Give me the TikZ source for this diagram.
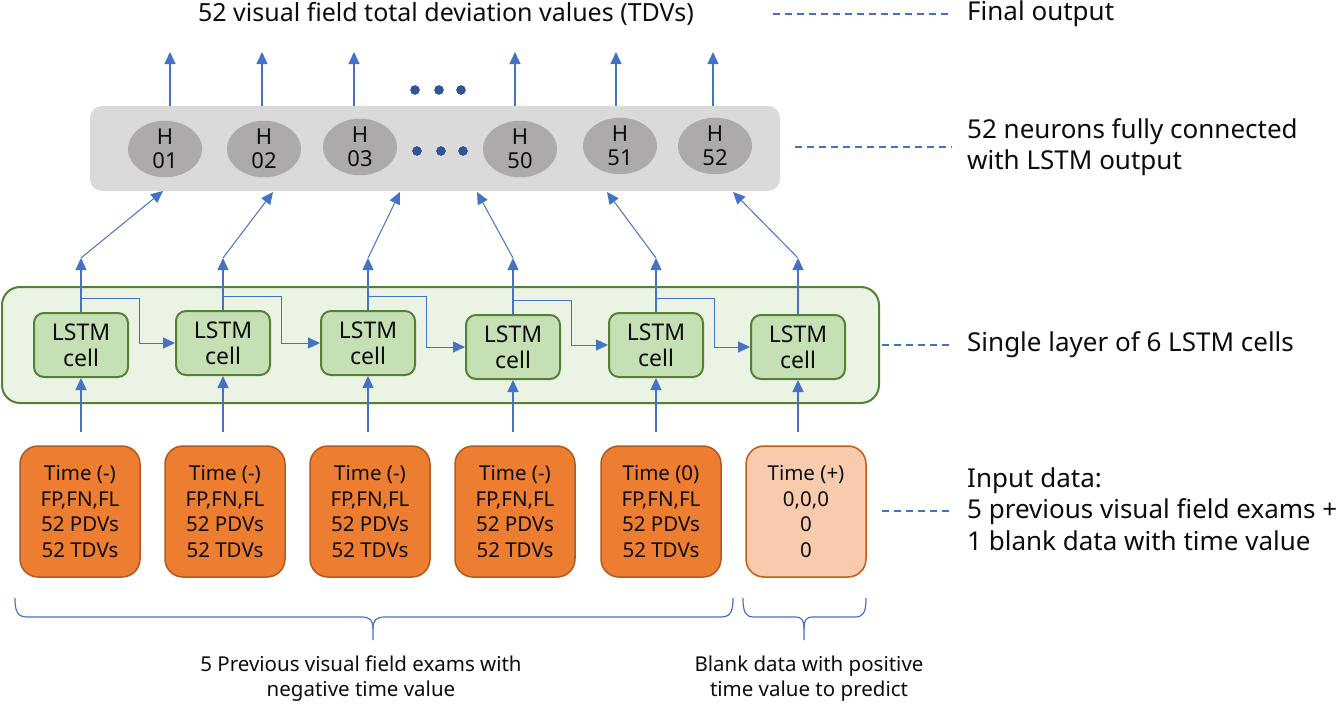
\documentclass[tikz,border=0pt]{standalone}
\usepackage{fontspec}
\setmainfont{Noto Sans}
\usetikzlibrary{arrows.meta,calc,shapes.geometric}
\definecolor{arrblue}{HTML}{4472C4}
\definecolor{dotblue}{HTML}{2F5597}
\definecolor{orgfill}{HTML}{ED7D31}
\definecolor{orgdraw}{HTML}{AE5A21}
\definecolor{ltfill}{HTML}{F8CBAD}
\definecolor{ltdraw}{HTML}{C55A11}
\definecolor{grnfill}{HTML}{EBF3E4}
\definecolor{grndraw}{HTML}{548235}
\definecolor{cellfill}{HTML}{C5E0B4}
\definecolor{grayfill}{HTML}{DADADA}
\definecolor{ellfill}{HTML}{AEAAAA}
\definecolor{txt}{HTML}{0D0D0D}
\begin{document}
\begin{tikzpicture}[x=1pt,y=-1pt,text=txt,
  conn/.style={draw=arrblue,line width=1.3pt,-{Triangle[width=11pt,length=12pt]}},
  thinconn/.style={draw=arrblue,line width=1pt,-{Triangle[width=11pt,length=12pt]}},
  dashln/.style={draw=arrblue,line width=1.5pt,dash pattern=on 7pt off 5pt},
  graybox/.style={fill=grayfill,rounded corners=12pt,minimum width=690pt,minimum height=85pt,inner sep=0},
  hnode/.style={ellipse,fill=ellfill,minimum width=74pt,minimum height=55pt,inner sep=0,align=center,font=\fontsize{22}{24}\selectfont},
  layerbox/.style={draw=grndraw,line width=2pt,fill=grnfill,rounded corners=18pt,minimum width=877pt,minimum height=116pt,inner sep=0},
  cell/.style={draw=grndraw,line width=2pt,fill=cellfill,rounded corners=10pt,minimum width=94pt,minimum height=64pt,inner sep=0,align=center,font=\fontsize{23}{26}\selectfont},
  inbox/.style={draw=orgdraw,line width=1.5pt,fill=orgfill,rounded corners=18pt,minimum width=120pt,minimum height=131pt,inner sep=0,align=center,font=\fontsize{20.5}{25.5}\selectfont},
  blankbox/.style={inbox,draw=ltdraw,fill=ltfill},
  lbl/.style={inner sep=0,align=left,anchor=west,font=\fontsize{26}{31.5}\selectfont},
  note/.style={inner sep=0,align=center,font=\fontsize{20.5}{25}\selectfont},
  dot/.style={circle,fill=dotblue,draw=dotblue!80!black,minimum size=9pt,inner sep=0},
  brace/.style={draw=arrblue,line width=1.2pt}
]
\useasboundingbox (0,0) rectangle (1342,704);

% ---- top: fully connected layer ----
\node[graybox] (hbox) at (435,148.5) {};
\node[hnode] (h1) at (165,149) {H\\01};
\node[hnode] (h2) at (264,149) {H\\02};
\node[hnode] (h3) at (360,147) {H\\03};
\node[hnode] (h50) at (520,149) {H\\50};
\node[hnode] (h51) at (620,146) {H\\51};
\node[hnode] (h52) at (715,146) {H\\52};
\foreach \i/\x in {1/415,2/439,3/461} \node[dot] (da\i) at (\x,90) {};
\foreach \i/\x in {1/417,2/441,3/463} \node[dot] (db\i) at (\x,151) {};

% output arrows
\foreach \i/\x in {1/170,2/262,3/354,4/515,5/616,6/713}{
  \coordinate (o\i) at (\x,52);
  \draw[conn] (o\i |- hbox.north) -- (o\i);
}

\node[inner sep=0,font=\fontsize{25}{31}\selectfont] (title) at (446,14) {52 visual field total deviation values (TDVs)};

% ---- LSTM layer ----
\node[layerbox] (layer) at (440.5,345) {};
\foreach \i/\x/\y in {1/81/345,2/223/343,3/368/343,4/513/347,5/656/345,6/798/347}{
  \node[cell] (c\i) at (\x,\y) {LSTM\\cell};
  \coordinate (u\i) at (\x,258);
  \coordinate (r\i) at ([xshift=10pt]c\i.east);
}
% targets on the bottom of the fully connected box
\coordinate (t1) at (163,191);
\coordinate (t2) at (273,192);
\coordinate (t3) at (400,192);
\coordinate (t4) at (477,192);
\coordinate (t5) at (607,192);
\coordinate (t6) at (733,192);
\foreach \i in {1,...,6}{
  \draw[conn] (c\i.north) -- (u\i);
  \draw[thinconn] (u\i) -- (t\i);
}
% recurrent connections
\foreach \i/\j in {1/2,2/3,3/4,4/5,5/6}{
  \draw[thinconn] ([yshift=14pt]c\i.north) -| (r\i |- c\j.west) -- (c\j.west);
}

% ---- input boxes ----
\node[inbox] (b1) at (80,511.5) {Time (-)\\FP,FN,FL\\52 PDVs\\52 TDVs};
\node[inbox] (b2) at (225,511.5) {Time (-)\\FP,FN,FL\\52 PDVs\\52 TDVs};
\node[inbox] (b3) at (370,511.5) {Time (-)\\FP,FN,FL\\52 PDVs\\52 TDVs};
\node[inbox] (b4) at (515,511.5) {Time (-)\\FP,FN,FL\\52 PDVs\\52 TDVs};
\node[inbox] (b5) at (661,511.5) {Time (0)\\FP,FN,FL\\52 PDVs\\52 TDVs};
\node[blankbox] (b6) at (806,511.5) {Time (+)\\0,0,0\\0\\0};
\foreach \i in {1,...,6}{
  \draw[conn,shorten <=13pt] (c\i.south |- b\i.north) -- (c\i.south);
}

% ---- braces ----
\draw[brace] (15,598) .. controls (15,613) and (18,617) .. (28,617) -- (361,617)
  .. controls (370,617) and (373,620) .. (373,629) -- (373,640);
\draw[brace] (373,629) .. controls (373,620) and (376,617) .. (385,617) -- (720,617)
  .. controls (730,617) and (733,613) .. (733,598);
\draw[brace] (743,598) .. controls (743,613) and (746,617) .. (754,617) -- (795,617)
  .. controls (802,617) and (804,620) .. (804,629) -- (804,640);
\draw[brace] (804,629) .. controls (804,620) and (806,617) .. (813,617) -- (855,617)
  .. controls (863,617) and (866,613) .. (866,598);

\node[note] (n1) at (361,679) {5 Previous visual field exams with\\negative time value};
\node[note] (n2) at (809,679) {Blank data with positive\\time value to predict};

% ---- right-hand labels ----
\node[lbl] (lfinal) at (967,14) {Final output};
\node[lbl] (lneur) at (967,147) {52 neurons fully connected\\with LSTM output};
\node[lbl] (llayer) at (967,345) {Single layer of 6 LSTM cells};
\node[lbl] (linput) at (967,509) {Input data:\\5 previous visual field exams +\\1 blank data with time value};
\coordinate (d1) at (773,14);
\coordinate (d2) at (795,147);
\coordinate (d3) at (882,345);
\coordinate (d4) at (882,511);
\draw[dashln] (d1) -- ([xshift=-15pt]lfinal.west);
\draw[dashln] (d2) -- ([xshift=-15pt]lneur.west);
\draw[dashln] (d3) -- ([xshift=-15pt]llayer.west);
\draw[dashln] (d4) -- ([xshift=-15pt]linput.west |- d4);
\end{tikzpicture}
\end{document}
